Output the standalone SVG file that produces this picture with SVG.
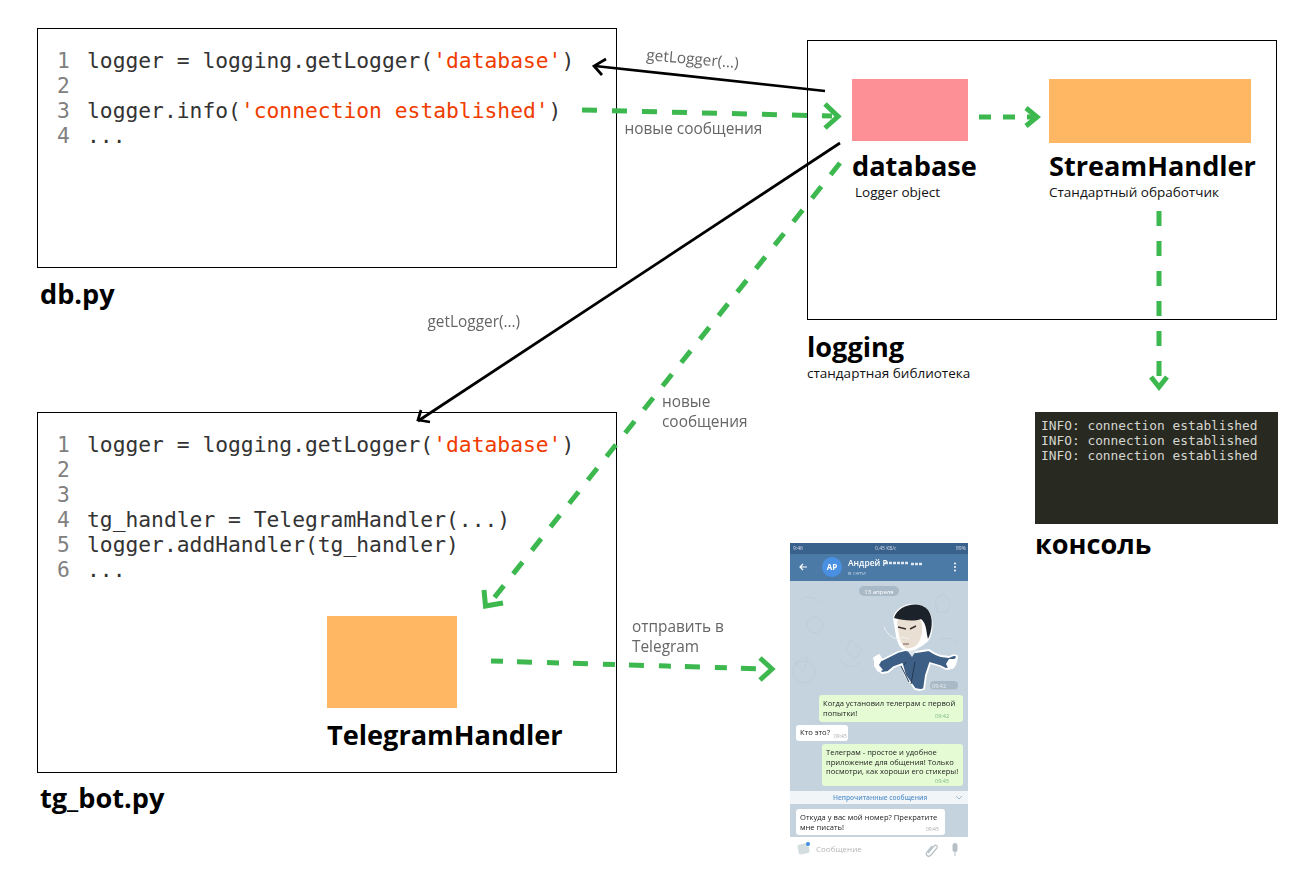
<svg xmlns="http://www.w3.org/2000/svg" width="1308" height="878" viewBox="0 0 1308 878">
<defs><filter id="soft" x="-2%" y="-2%" width="104%" height="104%"><feGaussianBlur stdDeviation="0.4"/></filter></defs>
<style>
.box{fill:#fff;stroke:#000;stroke-width:1}
.code{font:21.3px "DejaVu Sans Mono",monospace;fill:#333}
.num{font:21.3px "DejaVu Sans Mono",monospace;fill:#808080}
.str{fill:#f03c00}
.title{font:700 27.15px "Open Sans",sans-serif;fill:#000}
.sub{font:13.5px "Open Sans",sans-serif;fill:#111}
.lab{font:15.4px "Open Sans",sans-serif;fill:#666}
.con{font:12.85px "DejaVu Sans Mono",monospace;fill:#d6d6d0}
.blk{fill:none;stroke:#000;stroke-width:2.7}
.grn{fill:none;stroke:#3cb84f;stroke-width:5;stroke-dasharray:15 15}
.head{fill:none;stroke:#3cb84f;stroke-width:5}
.ph{font-family:"Open Sans",sans-serif;fill:#222;font-size:7.6px}
.tm{font:5.5px "Open Sans",sans-serif;fill:#7fb884}
.bub{fill:#e4fbd4}
.wb{fill:#fff}
.doodle{fill:none;stroke:#bccad6;stroke-width:.7}
</style>

<g id="db-py">
<rect class="box" x="37.500" y="28.500" width="579" height="239"/>
<text class="num" x="57" y="68">1</text><text class="code" x="87" y="68">logger = logging.getLogger(<tspan class="str">'database'</tspan>)</text>
<text class="num" x="57" y="93">2</text>
<text class="num" x="57" y="118">3</text><text class="code" x="87" y="118">logger.info(<tspan class="str">'connection established'</tspan>)</text>
<text class="num" x="57" y="143">4</text><text class="code" x="87" y="143">...</text>
<text class="title" x="40" y="304">db.py</text>
</g>

<g id="logging">
<rect class="box" x="807.500" y="40.500" width="469" height="279"/>
<text class="title" x="807" y="357">logging</text>
<text class="sub" x="807" y="378">стандартная библиотека</text>
</g>

<g id="database">
<rect x="852" y="79" width="116" height="62" fill="#fd8f96"/>
<text class="title" x="852" y="176">database</text>
<text class="sub" x="855" y="197">Logger object</text>
</g>

<g id="stream-handler">
<rect x="1049" y="79" width="202" height="64" fill="#ffb763"/>
<text class="title" x="1049" y="176">StreamHandler</text>
<text class="sub" x="1049" y="197">Стандартный обработчик</text>
</g>

<g id="tg-bot-py">
<rect class="box" x="37.500" y="412.500" width="579" height="360"/>
<text class="num" x="57" y="452">1</text><text class="code" x="87" y="452">logger = logging.getLogger(<tspan class="str">'database'</tspan>)</text>
<text class="num" x="57" y="477">2</text>
<text class="num" x="57" y="502">3</text>
<text class="num" x="57" y="527">4</text><text class="code" x="87" y="527">tg_handler = TelegramHandler(...)</text>
<text class="num" x="57" y="552">5</text><text class="code" x="87" y="552">logger.addHandler(tg_handler)</text>
<text class="num" x="57" y="577">6</text><text class="code" x="87" y="577">...</text>
<text class="title" x="40" y="808">tg_bot.py</text>
</g>

<g id="telegram-handler">
<rect x="327" y="616" width="130" height="92" fill="#ffb763"/>
<text class="title" x="327" y="745">TelegramHandler</text>
</g>

<g id="console">
<rect x="1035" y="412" width="243" height="112" fill="#282a22"/>
<text class="con" x="1041" y="430">INFO: connection established</text>
<text class="con" x="1041" y="445">INFO: connection established</text>
<text class="con" x="1041" y="460">INFO: connection established</text>
<text class="title" x="1035" y="554">консоль</text>
</g>

<g id="telegram-screenshot" filter="url(#soft)">
<rect x="790" y="543" width="178" height="294" fill="#c5d3de"/>
<circle class="doodle" cx="804" cy="672" r="11"/>
<circle class="doodle" cx="815" cy="625" r="8"/>
<path class="doodle" d="M800 600c8-5 16-3 20 3m-26 60l14-6-4 14zM935 600l8-6 8 8-4 10h-10zM850 640l12 10-6 8-10-6zM815 720l9 5M840 660c6 8 16 8 20 2M940 640c6-3 14-2 18 4"/>
<rect x="790" y="543" width="178" height="11" fill="#38628b"/>
<rect x="790" y="554" width="178" height="27" fill="#4c7aa6"/>
<text x="793" y="550" font-family="Open Sans,sans-serif" font-size="5px" fill="#dde">9:46</text>
<text x="875" y="550" font-family="Open Sans,sans-serif" font-size="5px" fill="#dde">0,45 КБ/с</text>
<text x="956" y="550" font-family="Open Sans,sans-serif" font-size="5px" fill="#dde">89%</text>
<path d="M807 567h-7m3-3l-3 3 3 3" fill="none" stroke="#fff" stroke-width="1.200"/>
<circle cx="832" cy="567" r="10" fill="#4a90e2"/>
<text x="832" y="570" text-anchor="middle" font-family="Open Sans,sans-serif" font-weight="700" font-size="8px" fill="#fff">АР</text>
<text x="848" y="566" font-family="Open Sans,sans-serif" font-weight="600" font-size="8.500px" fill="#fff">Андрей Р</text>
<path d="M885 563h24m2 1h12" stroke="#dfe8f0" stroke-width="2.500" stroke-dasharray="3 1" fill="none"/>
<text x="848" y="575" font-family="Open Sans,sans-serif" font-size="6px" fill="#b9d0e4">в сети</text>
<circle cx="955" cy="563.500" r="1" fill="#fff"/><circle cx="955" cy="567" r="1" fill="#fff"/><circle cx="955" cy="570.500" r="1" fill="#fff"/>
<rect x="859" y="586" width="40" height="10" rx="5" fill="#a9b9c6"/>
<text x="879" y="593.500" text-anchor="middle" font-family="Open Sans,sans-serif" font-size="6px" fill="#fff">13 апреля</text>
<!-- sticker -->
<path d="M874 658l5-3 3 5 16-8 8-2 10 2 13-2c4 3 7 5 12 6l8 1 5-2 3 1-2 8-3 4-6 1-6-3-10-3-4 12-2 14-4 1-5-1-10-14-3-11-8 3-6 5-6 1-5-4z" fill="#3d5f85" stroke="#fff" stroke-width="1.800" stroke-linejoin="round"/>
<path d="M874 658l5-3 3 5-3 5 4 5-5 2-4-6zM958 657l-2 8-3 4-5-1-2-4 3-5 5 0z" fill="#fff"/>
<path d="M907 650l5 7 6-9-2-2z" fill="#dfe6ec"/>
<path d="M901 666l8 16m6-20l-4 22m-5-22l-2 3" stroke="#24384f" stroke-width="1" fill="none"/>
<path d="M893 618c3-14 24-19 34-9 7 7 7 20 3 29-2 6-17 14-23 13-7-1-10-9-11-15z" fill="#fff"/>
<path d="M897 622c2-9 17-10 23-4 4 8 2 18-1 24-3 5-9 7-13 6-4-2-6-8-7-13z" fill="#eadfd3"/>
<path d="M894 618c4-14 26-18 34-8 6 8 4 21 0 29-2-7-1-15-7-20-8 3-19 1-27-1z" fill="#1e242c"/>
<path d="M898 627l8 2m4 0l6-3" fill="none" stroke="#39322e" stroke-width="1.500"/>
<path d="M884 627c3 7 8 11 14 12l5-2 6 2" fill="none" stroke="#f2f2f2" stroke-width="1"/>
<path d="M903 644h6" stroke="#7a5a50" stroke-width="1"/>
<rect x="930" y="681" width="28" height="8.500" rx="4" fill="#a9b9c6"/>
<text x="932" y="687.500" font-family="Open Sans,sans-serif" font-size="5.500px" fill="#e8eef3">09:42</text>
<!-- bubbles -->
<rect class="bub" x="819" y="695" width="144" height="27" rx="3"/>
<text class="ph" x="823" y="706">Когда установил телеграм с первой</text>
<text class="ph" x="823" y="716">попытки!</text>
<text class="tm" x="935" y="718">09:42</text>
<rect class="wb" x="796" y="725" width="52" height="16" rx="3"/>
<text class="ph" x="800" y="735">Кто это?</text>
<text x="834" y="738" font-family="Open Sans,sans-serif" font-size="5px" fill="#aaa">09:45</text>
<rect class="bub" x="822" y="744" width="141" height="42" rx="3"/>
<text class="ph" x="826" y="755">Телеграм - простое и удобное</text>
<text class="ph" x="826" y="765">приложение для общения! Только</text>
<text class="ph" x="826" y="774">посмотри, как хороши его стикеры!</text>
<text class="tm" x="935" y="783">09:45</text>
<rect x="790" y="791" width="178" height="13" fill="#f1f5f8"/>
<text x="833" y="799.500" font-family="Open Sans,sans-serif" font-weight="600" font-size="6.600px" fill="#5b95cb">Непрочитанные сообщения</text>
<path d="M956 796l3 3 3-3" stroke="#a5bacb" fill="none"/>
<rect class="wb" x="796" y="809" width="149" height="26" rx="3"/>
<text class="ph" x="800" y="820">Откуда у вас мой номер? Прекратите</text>
<text class="ph" x="800" y="830">мне писать!</text>
<text x="926" y="831" font-family="Open Sans,sans-serif" font-size="5px" fill="#aaa">09:45</text>
<rect x="798" y="844" width="11" height="10" rx="2" fill="#d4dde0" transform="rotate(-12 803 849)"/>
<circle cx="808" cy="844" r="2" fill="#3d8fe0"/>
<text x="816" y="852" font-family="Open Sans,sans-serif" font-size="8px" fill="#b5b5b5">Сообщение</text>
<path d="M928 853l6-7c2-2 4 0 3 2l-6 7c-3 3-6 0-4-3l5-6" stroke="#b5bfc4" stroke-width="1.200" fill="none"/>
<rect x="952.500" y="843" width="5" height="9" rx="2.500" fill="#b5bfc4"/>
<path d="M955 852v4" stroke="#b5bfc4"/>
</g>

<g id="connectors">
<path class="blk" d="M825 91L595 66"/>
<path class="blk" d="M606 59L594 66l8 9"/>
<path class="blk" d="M840 143L418 421"/>
<path class="blk" d="M430 422L418 420l3-10"/>
<path class="grn" d="M582 110L832 116"/>
<path class="head" d="M825 104L838 116.500 825 128"/>
<path class="grn" d="M840 163L490 603"/>
<path class="head" d="M484 590L485.500 606 503 603"/>
<path class="grn" style="stroke-dasharray:12 12" d="M979 117L1036 117"/>
<path class="head" d="M1026 108L1037 117 1026 126"/>
<path class="grn" d="M1159 211L1159 382"/>
<path class="head" d="M1151 377L1159 387 1167 377"/>
<path class="grn" style="stroke-dasharray:12 14 15 15" d="M491 661L768 669"/>
<path class="head" d="M760 658L772 669 760 680"/>
<text class="lab" x="646" y="60" transform="rotate(5 646 60)">getLogger(...)</text>
<text class="lab" x="624.500" y="134">новые сообщения</text>
<text class="lab" x="427.500" y="327">getLogger(...)</text>
<text class="lab" x="662" y="407">новые</text>
<text class="lab" x="662" y="427">сообщения</text>
<text class="lab" x="632" y="632">отправить в</text>
<text class="lab" x="632" y="652">Telegram</text>
</g>
</svg>
